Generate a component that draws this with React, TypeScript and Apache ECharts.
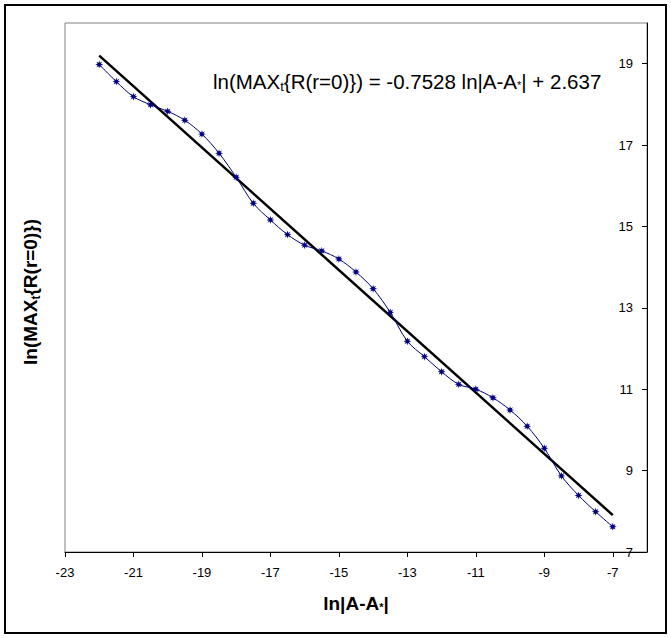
import React, { useEffect, useRef } from "react";
import * as echarts from "echarts";

const xValues = [
  -22, -21.5, -21, -20.5, -20, -19.5, -19, -18.5, -18, -17.5, -17, -16.5, -16, -15.5, -15, -14.5,
  -14, -13.5, -13, -12.5, -12, -11.5, -11, -10.5, -10, -9.5, -9, -8.5, -8, -7.5, -7,
];
const yValues = [
  18.98, 18.56, 18.19, 17.99, 17.83, 17.61, 17.27, 16.8, 16.21, 15.57, 15.16, 14.8, 14.54, 14.4,
  14.2, 13.88, 13.47, 12.89, 12.18, 11.8, 11.43, 11.12, 11.0, 10.79, 10.49, 10.09, 9.55, 8.87,
  8.39, 7.99, 7.62,
];
const fitSlope = -0.7528;
const fitIntercept = 2.637;
const fitRange = [-22, -7];

const xAxisRange = [-23, -6];
const yAxisRange = [7, 20];

const FONT = "'Liberation Sans', Arial, Helvetica, sans-serif";
const STAR =
  "path://M2,1L1.416,1.172L1.707,1.707L1.172,1.416L1,2L0.828,1.416L0.293,1.707L0.584,1.172L0,1L0.584,0.828L0.293,0.293L0.828,0.584L1,0L1.172,0.584L1.707,0.293L1.416,0.828Z";

export default function App() {
  const ref = useRef<HTMLDivElement>(null);
  useEffect(() => {
    if (!ref.current) return;
    const chart = echarts.init(ref.current, null, { renderer: "svg" });
    const data = xValues.map((x, i) => [x, yValues[i]]);
    const fitData = fitRange.map((x) => [x, fitSlope * x + fitIntercept]);
    chart.setOption({
      animation: false,
      backgroundColor: "#fff",
      grid: {
        left: 65,
        top: 23,
        right: 24,
        bottom: 86,
        show: true,
        borderColor: "#808080",
        borderWidth: 1,
        backgroundColor: "#fff",
      },
      xAxis: {
        type: "value",
        min: xAxisRange[0],
        max: xAxisRange[1],
        interval: 2,
        splitLine: { show: false },
        axisLine: { show: true, onZero: false, lineStyle: { color: "#000", width: 1 } },
        axisTick: { show: true, inside: false, length: 5, lineStyle: { color: "#000" } },
        axisLabel: {
          showMaxLabel: false,
          showMinLabel: true,
          color: "#000",
          fontFamily: FONT,
          fontSize: 13,
          margin: 14,
        },
      },
      yAxis: {
        type: "value",
        position: "right",
        min: yAxisRange[0],
        max: yAxisRange[1],
        interval: 2,
        splitLine: { show: false },
        axisLine: { show: true, onZero: false, lineStyle: { color: "#000", width: 1 } },
        axisTick: { show: true, inside: true, length: 5, lineStyle: { color: "#000" } },
        axisLabel: {
          inside: true,
          showMaxLabel: false,
          showMinLabel: true,
          color: "#000",
          fontFamily: FONT,
          fontSize: 13,
          margin: 14,
        },
      },
      series: [
        {
          type: "line",
          data: fitData,
          symbol: "none",
          lineStyle: { color: "#000", width: 2.5 },
          z: 2,
        },
        {
          type: "line",
          data,
          smooth: 0.35,
          symbol: STAR,
          symbolSize: 8,
          itemStyle: { color: "#000080" },
          lineStyle: { color: "#000080", width: 1 },
          z: 3,
        },
      ],
      graphic: [
        {
          type: "rect",
          shape: { x: 5, y: 5, width: 661, height: 628 },
          style: { fill: "none", stroke: "#000", lineWidth: 2 },
          z: 10,
        },
        {
          type: "text",
          x: 213,
          y: 81,
          z: 10,
          style: {
            text: "ln(MAX{s|t}{R(r=0)}) = -0.7528 ln|A-A{a|*}| + 2.637",
            fontFamily: FONT,
            fontSize: 20.5,
            fill: "#000",
            verticalAlign: "middle",
            align: "left",
            rich: {
              s: { fontSize: 13, fontFamily: FONT, fill: "#000", padding: [11, 0, 0, 0] },
              a: { fontSize: 11, fontFamily: FONT, fill: "#000", padding: [8, 0, 0, 0] },
            },
          },
        },
        {
          type: "text",
          x: 30,
          y: 292,
          rotation: Math.PI / 2,
          z: 10,
          style: {
            text: "ln(MAX{s|t}{R(r=0)})",
            fontFamily: FONT,
            fontSize: 19,
            fontWeight: "bold",
            fill: "#000",
            align: "center",
            verticalAlign: "middle",
            rich: {
              s: {
                fontSize: 12,
                fontWeight: "bold",
                fontFamily: FONT,
                fill: "#000",
                padding: [11, 0, 0, 0],
              },
            },
          },
        },
        {
          type: "text",
          x: 356,
          y: 603,
          z: 10,
          style: {
            text: "ln|A-A{a|*}|",
            fontFamily: FONT,
            fontSize: 19,
            fontWeight: "bold",
            fill: "#000",
            align: "center",
            verticalAlign: "middle",
            rich: {
              a: {
                fontSize: 11,
                fontWeight: "bold",
                fontFamily: FONT,
                fill: "#000",
                padding: [8, 0, 0, 0],
              },
            },
          },
        },
      ],
    });
    return () => chart.dispose();
  }, []);
  return (
    <div
      ref={ref}
      style={{ position: "fixed", left: 0, top: 0, width: 671, height: 638 }}
    />
  );
}
